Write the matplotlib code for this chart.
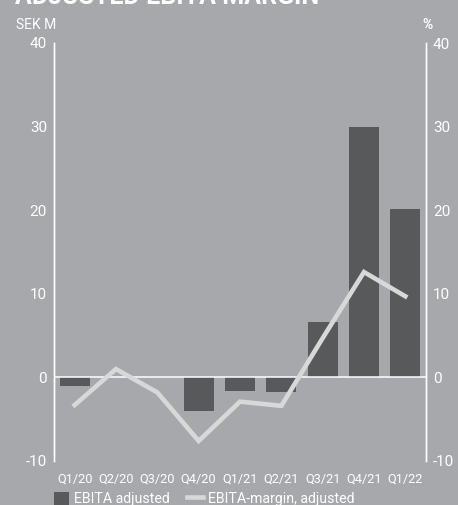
import matplotlib
matplotlib.use("Agg")
import matplotlib.pyplot as plt
from matplotlib.patches import Patch
from matplotlib.lines import Line2D

quarters = ["Q1/20", "Q2/20", "Q3/20", "Q4/20", "Q1/21", "Q2/21", "Q3/21", "Q4/21", "Q1/22"]
ebita_adjusted = [-1.0, 0.0, 0.0, -4.0, -1.6, -1.75, 6.6, 30.0, 20.2]
ebita_margin = [-3.3, 1.0, -1.8, -7.6, -2.9, -3.4, 4.7, 12.6, 9.7]
y_ticks = [-10, 0, 10, 20, 30, 40]

bg = "#a7a8ac"
bar_col = "#58595b"
line_col = "#d8d8d8"
white = "#ffffff"

plt.rcParams["font.family"] = ["Roboto", "DejaVu Sans"]
plt.rcParams["axes.unicode_minus"] = False

fig = plt.figure(figsize=(4.58, 5.05), dpi=100, facecolor=bg)
ax = fig.add_axes([54 / 458, 44 / 505, 372 / 458, 418 / 505])
ax.set_facecolor(bg)
ax2 = ax.twinx()

x = list(range(len(quarters)))
ax.bar(x, ebita_adjusted, width=0.73, color=bar_col, zorder=2)
ax.axhline(0, color=white, lw=1.1, zorder=3)
ax2.plot(x, ebita_margin, color=line_col, lw=3.3, solid_joinstyle="miter", zorder=4)

for a in (ax, ax2):
    a.set_ylim(-10, 40)
    a.set_xlim(-0.5, len(quarters) - 0.5)
    a.set_yticks(y_ticks)
    a.tick_params(axis="y", length=0, pad=5, labelcolor=white, labelsize=11)
    for s in ("top", "bottom"):
        a.spines[s].set_visible(False)
    a.spines["left"].set_color(white)
    a.spines["right"].set_color(white)
    a.spines["left"].set_linewidth(1.0)
    a.spines["right"].set_linewidth(1.0)

ax.set_xticks(x)
ax.set_xticklabels(quarters)
ax.tick_params(axis="x", length=0, pad=8, labelcolor=white, labelsize=9.2)

fig.text(15 / 458, 1.0 + 15 / 505, "ADJUSTED EBITA MARGIN", color=white,
         fontsize=18, fontweight="bold", ha="left", va="top")
fig.text(16 / 458, 1 - 29 / 505, "SEK M", color=white, fontsize=10, ha="left", va="baseline")
fig.text(433 / 458, 1 - 29 / 505, "%", color=white, fontsize=10, fontweight="bold",
         ha="right", va="baseline")

handles = [Patch(facecolor=bar_col, edgecolor="none"),
           Line2D([0], [0], color=line_col, lw=3.3)]
fig.legend(handles, ["EBITA adjusted", "EBITA-margin, adjusted"], loc="lower left",
           bbox_to_anchor=(41 / 458, -14 / 505), ncol=2, frameon=False,
           prop={"size": 10.2}, labelcolor=white,
           handlelength=1.1, handletextpad=0.35, columnspacing=1.2, handleheight=1.1)

fig.savefig("out.png", dpi=100, facecolor=bg)
